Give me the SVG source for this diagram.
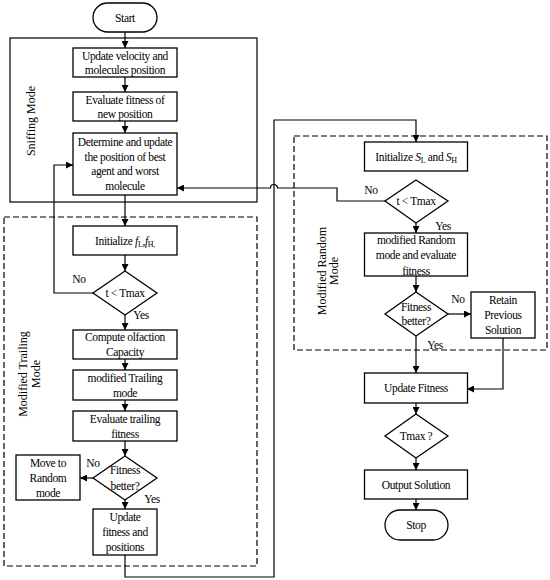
<svg xmlns="http://www.w3.org/2000/svg" width="550" height="580" viewBox="0 0 550 580">
<style>
.b{fill:#fff;stroke:#000;stroke-width:1.3}
.t{font-family:"Liberation Serif","Times New Roman",serif;font-size:11.5px;letter-spacing:-0.35px;text-anchor:middle;fill:#000}
.r{font-family:"Liberation Serif","Times New Roman",serif;font-size:12px;text-anchor:middle;fill:#000}
.c{fill:none;stroke:#000;stroke-width:1.2}
.d{fill:none;stroke:#000;stroke-width:1.2;stroke-dasharray:6,3}
.s{fill:none;stroke:#000;stroke-width:1.2}
</style>
<defs>
<marker id="a" markerUnits="userSpaceOnUse" markerWidth="8" markerHeight="7" refX="7" refY="3.5" orient="auto">
<path d="M0,0 L7,3.5 L0,7 z" fill="#000"/>
</marker>
</defs>
<rect width="550" height="580" fill="#fff"/>
<g id="sniffing-region">
<rect class="s" x="10" y="38" width="247" height="164"/>
<text class="r" transform="translate(35,121) rotate(-90)">Sniffing Mode</text>
</g>
<g id="trailing-region">
<rect class="d" x="4" y="217" width="253" height="349"/>
<text class="r" transform="translate(27,374) rotate(-90)">Modified Trailing</text>
<text class="r" transform="translate(40,374) rotate(-90)">Mode</text>
</g>
<g id="random-region">
<rect class="d" x="294" y="136" width="253" height="214"/>
<text class="r" transform="translate(326,271) rotate(-90)">Modified Random</text>
<text class="r" transform="translate(338,271) rotate(-90)">Mode</text>
</g>
<g id="connectors">
<path class="c" d="M125,32 V48" marker-end="url(#a)"/>
<path class="c" d="M125,77 V92" marker-end="url(#a)"/>
<path class="c" d="M125,121 V133" marker-end="url(#a)"/>
<path class="c" d="M125,195 V226" marker-end="url(#a)"/>
<path class="c" d="M125,255 V271" marker-end="url(#a)"/>
<path class="c" d="M93,293 H54 V165 H73" marker-end="url(#a)"/>
<path class="c" d="M125,315 V330" marker-end="url(#a)"/>
<path class="c" d="M125,359 V370" marker-end="url(#a)"/>
<path class="c" d="M125,400 V411" marker-end="url(#a)"/>
<path class="c" d="M125,441 V456" marker-end="url(#a)"/>
<path class="c" d="M93,478 H80" marker-end="url(#a)"/>
<path class="c" d="M125,500 V509" marker-end="url(#a)"/>
<path class="c" d="M125,555 V577 H274 V120 H416 V142" marker-end="url(#a)"/>
<path class="c" d="M385,201 H337 V188 H277.5 A3.5,3.5 0 0 0 270.5,188 H177" marker-end="url(#a)"/>
<path class="c" d="M416,223 V233" marker-end="url(#a)"/>
<path class="c" d="M416,276 V292" marker-end="url(#a)"/>
<path class="c" d="M448,314 H471" marker-end="url(#a)"/>
<path class="c" d="M416,336 V373" marker-end="url(#a)"/>
<path class="c" d="M503,338 V389 H467" marker-end="url(#a)"/>
<path class="c" d="M416,403 V414" marker-end="url(#a)"/>
<path class="c" d="M416,458 V470" marker-end="url(#a)"/>
<path class="c" d="M416,499 V510" marker-end="url(#a)"/>
<text class="t" x="79" y="283">No</text>
<text class="t" x="141" y="319">Yes</text>
<text class="t" x="93" y="467">No</text>
<text class="t" x="152" y="503">Yes</text>
<text class="t" x="371" y="194">No</text>
<text class="t" x="443" y="230">Yes</text>
<text class="t" x="458" y="303">No</text>
<text class="t" x="435" y="349">Yes</text>
</g>
<g id="start">
<rect class="b" x="93" y="3" width="64" height="29" rx="14.5"/>
<text class="t" x="125" y="22">Start</text>
</g>
<g id="update-velocity">
<rect class="b" x="73" y="48" width="104" height="29"/>
<text class="t" x="125" y="59.5">Update velocity and</text>
<text class="t" x="125" y="74">molecules position</text>
</g>
<g id="evaluate-fitness">
<rect class="b" x="73" y="92" width="104" height="29"/>
<text class="t" x="125" y="103.5">Evaluate fitness of</text>
<text class="t" x="125" y="118">new position</text>
</g>
<g id="determine">
<rect class="b" x="73" y="133" width="104" height="62"/>
<text class="t" x="125" y="146">Determine and update</text>
<text class="t" x="125" y="160.5">the position of best</text>
<text class="t" x="125" y="175">agent and worst</text>
<text class="t" x="125" y="190">molecule</text>
</g>
<g id="init-f">
<rect class="b" x="73" y="226" width="104" height="29"/>
<text class="t" x="125" y="244.5">Initialize <tspan font-style="italic">f</tspan><tspan font-size="8" dy="2">L</tspan><tspan dy="-2">,</tspan><tspan font-style="italic">f</tspan><tspan font-size="8" dy="2">H,</tspan></text>
</g>
<g id="cond-t1">
<polygon class="b" points="125,271 157,293 125,315 93,293"/>
<text class="t" x="125" y="297">t &lt; Tmax</text>
</g>
<g id="compute-olfaction">
<rect class="b" x="73" y="330" width="104" height="29"/>
<text class="t" x="125" y="341">Compute olfaction</text>
<text class="t" x="125" y="355.5">Capacity</text>
</g>
<g id="modified-trailing">
<rect class="b" x="73" y="370" width="104" height="30"/>
<text class="t" x="125" y="382">modified Trailing</text>
<text class="t" x="125" y="396.5">mode</text>
</g>
<g id="evaluate-trailing">
<rect class="b" x="73" y="411" width="104" height="30"/>
<text class="t" x="125" y="423">Evaluate trailing</text>
<text class="t" x="125" y="437.5">fitness</text>
</g>
<g id="fitness-better-1">
<polygon class="b" points="125,456 157,478 125,500 93,478"/>
<text class="t" x="125" y="474">Fitness</text>
<text class="t" x="125" y="490">better?</text>
</g>
<g id="move-random">
<rect class="b" x="16" y="455" width="64" height="45"/>
<text class="t" x="48" y="467">Move to</text>
<text class="t" x="48" y="482">Random</text>
<text class="t" x="48" y="497">mode</text>
</g>
<g id="update-fitness-positions">
<rect class="b" x="93" y="509" width="64" height="46"/>
<text class="t" x="125" y="521">Update</text>
<text class="t" x="125" y="536">fitness and</text>
<text class="t" x="125" y="551">positions</text>
</g>
<g id="init-s">
<rect class="b" x="364.5" y="142" width="103" height="29"/>
<text class="t" x="416" y="160.5">Initialize <tspan font-style="italic">S</tspan><tspan font-size="8" dy="2">L</tspan><tspan dy="-2"> and </tspan><tspan font-style="italic">S</tspan><tspan font-size="8" dy="2">H</tspan></text>
</g>
<g id="cond-t2">
<polygon class="b" points="416,180 448,201 416,223 385,201"/>
<text class="t" x="416" y="205">t &lt; Tmax</text>
</g>
<g id="modified-random">
<rect class="b" x="364.5" y="233" width="103" height="43"/>
<text class="t" x="416" y="244">modified Random</text>
<text class="t" x="416" y="259">mode and evaluate</text>
<text class="t" x="416" y="275">fitness</text>
</g>
<g id="fitness-better-2">
<polygon class="b" points="416,292 448,314 416,336 385,314"/>
<text class="t" x="416" y="311">Fitness</text>
<text class="t" x="416" y="325">better?</text>
</g>
<g id="retain">
<rect class="b" x="471" y="292" width="64" height="46"/>
<text class="t" x="503" y="304">Retain</text>
<text class="t" x="503" y="319">Previous</text>
<text class="t" x="503" y="334">Solution</text>
</g>
<g id="update-fitness">
<rect class="b" x="364.5" y="373" width="103" height="30"/>
<text class="t" x="416" y="392">Update Fitness</text>
</g>
<g id="tmax">
<polygon class="b" points="416,414 448,436 416,458 385,436"/>
<text class="t" x="416" y="440">Tmax ?</text>
</g>
<g id="output">
<rect class="b" x="364.5" y="470" width="103" height="29"/>
<text class="t" x="416" y="488.5">Output Solution</text>
</g>
<g id="stop">
<rect class="b" x="385" y="510" width="63" height="30" rx="15"/>
<text class="t" x="416" y="529">Stop</text>
</g>
</svg>
